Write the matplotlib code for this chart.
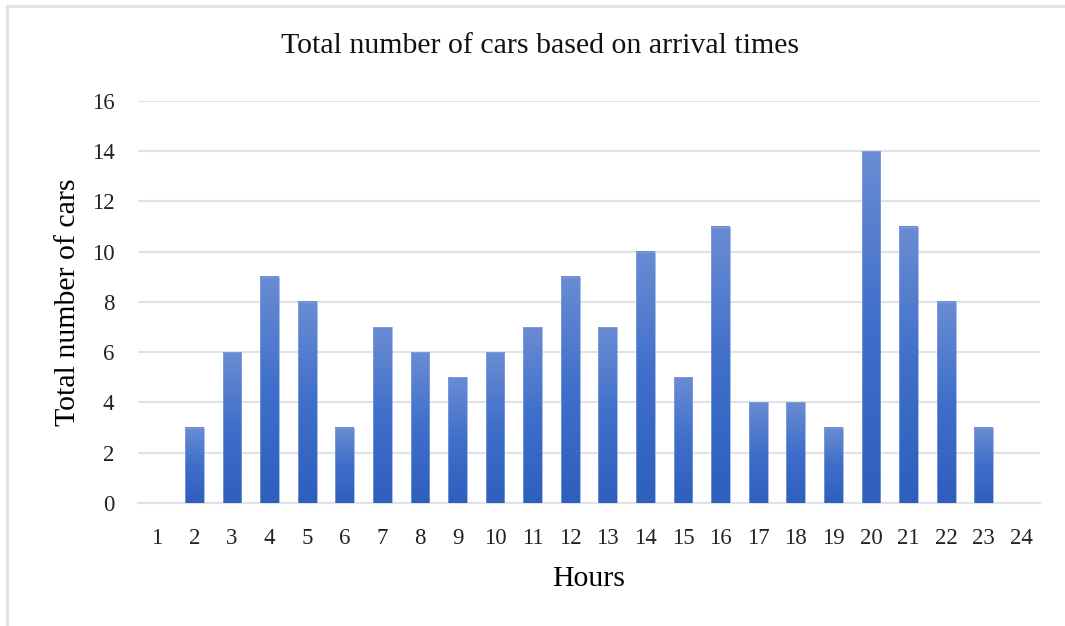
import numpy as np
import matplotlib.pyplot as plt
from matplotlib.colors import LinearSegmentedColormap
from matplotlib.patches import Rectangle

hours = list(range(1, 25))
cars = [0, 3, 6, 9, 8, 3, 7, 6, 5, 6, 7, 9, 7, 10, 5, 11, 4, 4, 3, 14, 11, 8, 3, 0]

plt.rcParams['font.family'] = ['Liberation Serif', 'DejaVu Serif']

fig = plt.figure(figsize=(10.65, 6.26), dpi=100)
# light frame like the pasted chart border
fig.patches.append(Rectangle((7 / 1065, -0.1), 1.2, (626 - 6) / 626 + 0.1,
                             transform=fig.transFigure, fill=False,
                             edgecolor='#dde1e8', linewidth=2))
ax = fig.add_axes([0.1296, 0.1965, 0.8470, 0.6422])

cmap = LinearSegmentedColormap.from_list('bar', ['#2e5fbd', '#3f6fca', '#6a8cd3'])
grad = np.linspace(0, 1, 256).reshape(-1, 1)
w = 0.5
for x, v in zip(hours, cars):
    if v <= 0:
        continue
    ax.imshow(grad, cmap=cmap, origin='lower', aspect='auto',
              extent=[x - w / 2, x + w / 2, 0, v], zorder=3)
    ax.add_patch(Rectangle((x - w / 2, 0), w, v, fill=False,
                           edgecolor='#86a3dd', linewidth=0.5, zorder=4))

ax.set_xlim(0.5, 24.5)
ax.set_ylim(0, 16)
ax.set_xticks(hours)
ax.set_yticks(range(0, 17, 2))
ax.tick_params(length=0, labelsize=16.5, colors='#222222')
ax.tick_params(axis='x', pad=18)
ax.tick_params(axis='y', pad=17)
ax.grid(axis='y', color='#dfe2e7', linewidth=1.5, zorder=0)
for s in ['top', 'right', 'left']:
    ax.spines[s].set_visible(False)
ax.spines['bottom'].set_color('#dfe2e7')
ax.spines['bottom'].set_linewidth(1.5)

# title is centred on the whole chart box, not the plot area
fig.text(540 / 1065, 1 - 46 / 626, 'Total number of cars based on arrival times',
         fontsize=21.5, ha='center', va='center', color='#111111')
ax.set_xlabel('Hours', fontsize=21.5, labelpad=12)
ax.set_ylabel('Total number of cars', fontsize=21.5, labelpad=8)

fig.savefig('out.png', dpi=100)
